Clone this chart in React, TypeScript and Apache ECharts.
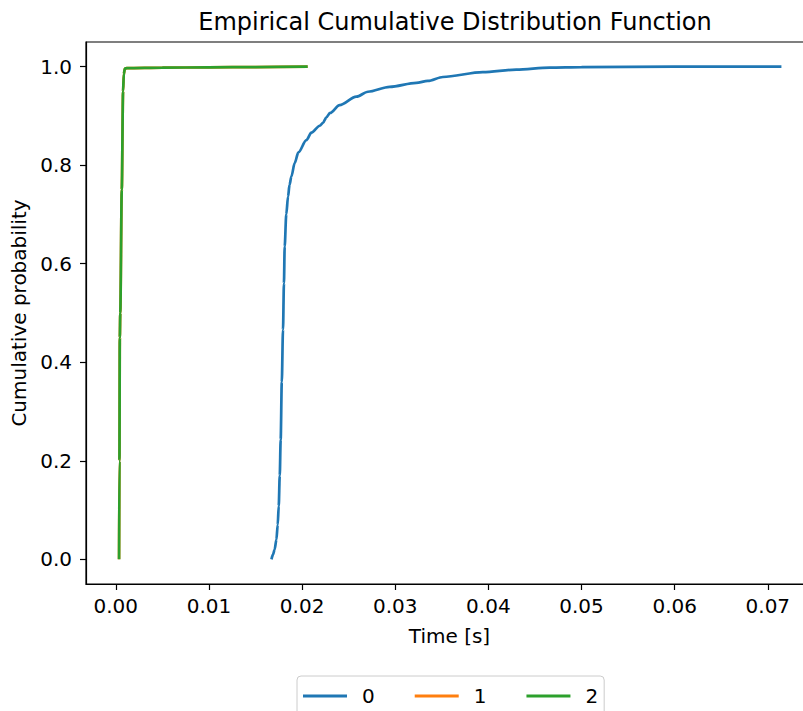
import React, { useEffect, useRef } from "react";
import * as echarts from "echarts";

const seriesNames = ["0", "1", "2"];
const seriesColors = ["#1f77b4", "#ff7f0e", "#2ca02c"];

const series0: [number, number][] = [
  [0.01671, 0], [0.01688, 0.01], [0.01705, 0.02], [0.01724, 0.04], [0.01738, 0.07],
  [0.01749, 0.108], [0.0176, 0.17], [0.0177, 0.243], [0.01782, 0.36], [0.01795, 0.466],
  [0.01805, 0.56], [0.01813, 0.635], [0.0183, 0.7], [0.01849, 0.736], [0.01865, 0.76],
  [0.01885, 0.777], [0.0192, 0.804], [0.0196, 0.826], [0.02046, 0.851], [0.021, 0.866],
  [0.0219, 0.88], [0.02225, 0.886], [0.0226, 0.897], [0.023, 0.906], [0.02403, 0.922],
  [0.02583, 0.939], [0.02707, 0.949], [0.0294, 0.959], [0.03226, 0.967], [0.0335, 0.971],
  [0.03512, 0.979], [0.0394, 0.989], [0.043, 0.994], [0.04657, 0.998], [0.05, 0.999],
  [0.06, 1.0], [0.07146, 1.0],
];

const series1: [number, number][] = [
  [0.00035, 0], [0.00039, 0.2], [0.00043, 0.45], [0.00048, 0.5], [0.00064, 0.75],
  [0.00078, 0.95], [0.00086, 0.985], [0.00097, 0.996], [0.00118, 0.997], [0.005, 0.998],
  [0.01, 0.9985], [0.015, 0.9992], [0.0206, 1.0],
];

const series2: [number, number][] = [
  [0.00035, 0], [0.00039, 0.2], [0.00043, 0.45], [0.00048, 0.5], [0.00064, 0.75],
  [0.00078, 0.95], [0.00086, 0.985], [0.00097, 0.996], [0.00118, 0.997], [0.005, 0.998],
  [0.01, 0.9985], [0.015, 0.9992], [0.0206, 1.0],
];

const xTicks = [0, 0.01, 0.02, 0.03, 0.04, 0.05, 0.06, 0.07];
const yTicks = [0, 0.2, 0.4, 0.6, 0.8, 1.0];

const FONT = "DejaVu Sans";

export default function App() {
  const ref = useRef<HTMLDivElement>(null);
  useEffect(() => {
    if (!ref.current) return;
    const chart = echarts.init(ref.current, null, { renderer: "svg" });
    const data = [series0, series1, series2];
    chart.setOption({
      animation: false,
      backgroundColor: "#ffffff",
      textStyle: { fontFamily: FONT },
      title: {
        text: "Empirical Cumulative Distribution Function",
        left: 450,
        textAlign: "center",
        top: 5,
        textStyle: { fontFamily: FONT, fontSize: 24, fontWeight: "normal", color: "#000" },
      },
      legend: {
        data: seriesNames,
        left: 297,
        top: 676,
        icon: "rect",
        itemWidth: 44,
        itemHeight: 3,
        itemGap: 40,
        padding: [10, 6, 14, 6],
        borderColor: "#cccccc",
        borderWidth: 1,
        borderRadius: 4,
        textStyle: { fontFamily: FONT, fontSize: 20, color: "#000", padding: [0, 0, 0, 10] },
      },
      grid: {
        left: 86,
        top: 42,
        width: 727,
        height: 542,
        show: true,
        borderColor: "#000",
        borderWidth: 1.2,
        containLabel: false,
        outerBoundsMode: "none",
      },
      xAxis: {
        type: "value",
        min: -0.0032,
        max: 0.07485,
        name: "Time [s]",
        nameLocation: "middle",
        nameGap: 42,
        nameTextStyle: { fontFamily: FONT, fontSize: 20, color: "#000" },
        splitLine: { show: false },
        axisLine: { show: true, onZero: false, lineStyle: { color: "#000", width: 1.2 } },
        axisTick: { show: true, length: 6, customValues: xTicks, lineStyle: { color: "#000", width: 1.2 } },
        axisLabel: {
          customValues: xTicks,
          margin: 12,
          fontFamily: FONT,
          fontSize: 20,
          color: "#000",
          formatter: (v: number) => v.toFixed(2),
        },
      },
      yAxis: {
        type: "value",
        min: -0.05,
        max: 1.05,
        name: "Cumulative probability",
        nameLocation: "middle",
        nameGap: 56,
        nameTextStyle: { fontFamily: FONT, fontSize: 20, color: "#000" },
        splitLine: { show: false },
        axisLine: { show: true, onZero: false, lineStyle: { color: "#000", width: 1.2 } },
        axisTick: { show: true, length: 6, customValues: yTicks, lineStyle: { color: "#000", width: 1.2 } },
        axisLabel: {
          customValues: yTicks,
          margin: 14,
          fontFamily: FONT,
          fontSize: 20,
          color: "#000",
          formatter: (v: number) => v.toFixed(1),
        },
      },
      series: seriesNames.map((name, i) => ({
        name,
        type: "line",
        data: data[i],
        symbol: "none",
        showSymbol: false,
        smooth: 0.3,
        smoothMonotone: "x",
        color: seriesColors[i],
        lineStyle: { width: 2.7, color: seriesColors[i] },
        z: 2 + i,
      })),
    });
    return () => chart.dispose();
  }, []);
  return (
    <div
      ref={ref}
      style={{ position: "fixed", left: 0, top: 0, width: 803, height: 711, background: "#fff" }}
    />
  );
}
